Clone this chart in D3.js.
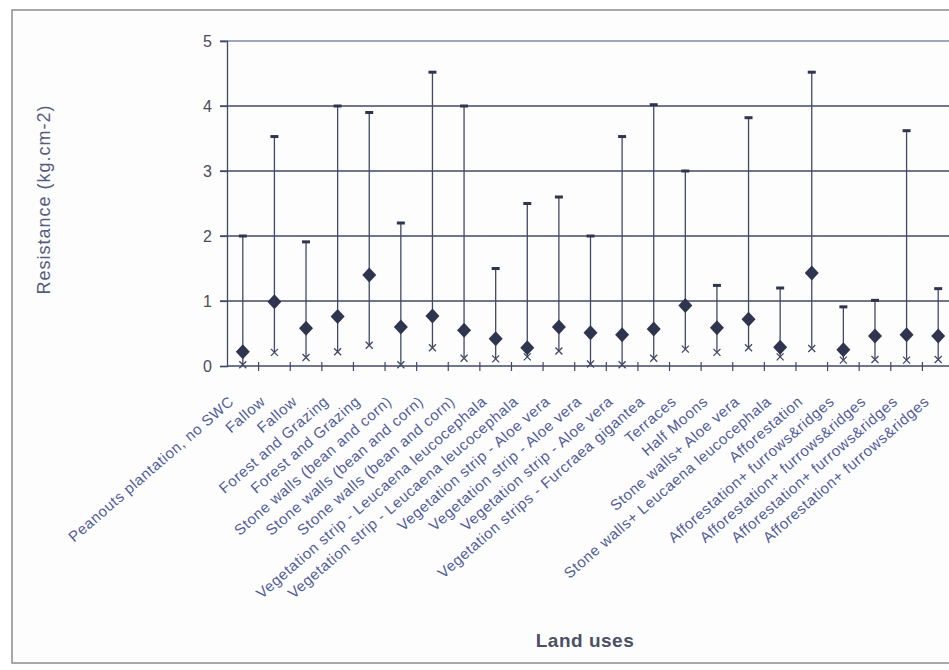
<!DOCTYPE html>
<html>
<head>
<meta charset="utf-8">
<script src="https://cdn.jsdelivr.net/npm/d3@7"></script>
<style>
  html, body { margin: 0; padding: 0; background: #ffffff; }
  svg { display: block; }
  text { font-family: "Liberation Sans", Arial, sans-serif; }
</style>
</head>
<body>
<svg id="chart" width="949" height="670"></svg>
<script>
// Land uses and soil resistance (kg.cm-2): maximum, mean and minimum per site
const categories = [
  "Peanouts plantation, no SWC",
  "Fallow",
  "Fallow",
  "Forest and Grazing",
  "Forest and Grazing",
  "Stone walls (bean and corn)",
  "Stone walls (bean and corn)",
  "Stone walls (bean and corn)",
  "Vegetation strip - Leucaena leucocephala",
  "Vegetation strip - Leucaena leucocephala",
  "Vegetation strip - Aloe vera",
  "Vegetation strip - Aloe vera",
  "Vegetation strip - Aloe vera",
  "Vegetation strips - Furcraea gigantea",
  "Terraces",
  "Half Moons",
  "Stone walls+ Aloe vera",
  "Stone walls+ Leucaena leucocephala",
  "Afforestation",
  "Afforestation+ furrows&ridges",
  "Afforestation+ furrows&ridges",
  "Afforestation+ furrows&ridges",
  "Afforestation+ furrows&ridges"
];
const maxValues  = [2.0, 3.53, 1.91, 4.0, 3.9, 2.2, 4.52, 4.0, 1.5, 2.5, 2.6, 2.0, 3.53, 4.02, 3.0, 1.24, 3.82, 1.2, 4.52, 0.91, 1.01, 3.62, 1.19];
const meanValues = [0.22, 0.99, 0.58, 0.76, 1.4, 0.6, 0.77, 0.55, 0.42, 0.28, 0.6, 0.51, 0.48, 0.57, 0.93, 0.59, 0.72, 0.29, 1.43, 0.25, 0.46, 0.48, 0.46];
const minValues  = [0.02, 0.21, 0.13, 0.22, 0.32, 0.02, 0.28, 0.12, 0.11, 0.14, 0.23, 0.03, 0.02, 0.12, 0.26, 0.21, 0.28, 0.14, 0.27, 0.09, 0.1, 0.09, 0.1];
const yTicks = [0, 1, 2, 3, 4, 5];

const svg = d3.select("#chart");
const ink = "#30354f";
const lineInk = "#424966";
const labelInk = "#515c9a";

// outer frame
svg.append("rect")
  .attr("x", 12).attr("y", 10)
  .attr("width", 960).attr("height", 653)
  .attr("fill", "#fdfdfd")
  .attr("stroke", "#8c8c8c").attr("stroke-width", 1.5);

const plot = { left: 227, right: 954, top: 41, bottom: 366 };

const x = d3.scaleBand()
  .domain(d3.range(categories.length))
  .range([plot.left, plot.right])
  .paddingInner(0).paddingOuter(0);

const y = d3.scaleLinear().domain([0, 5]).range([plot.bottom, plot.top]);

// horizontal gridlines with tick stubs to the left of the axis
const grid = svg.append("g");
grid.selectAll("line")
  .data(yTicks.filter(d => d > 0))
  .join("line")
  .attr("x1", plot.left - 7).attr("x2", plot.right)
  .attr("y1", d => y(d)).attr("y2", d => y(d))
  .attr("stroke", d => d === 5 ? "#7f87a3" : lineInk)
  .attr("stroke-width", 1.3);

// y axis
const yAxis = svg.append("g")
  .attr("transform", `translate(${plot.left},0)`)
  .call(d3.axisLeft(y).tickValues(yTicks).tickSize(7).tickPadding(8).tickFormat(d3.format("d")));
yAxis.select(".domain").attr("stroke", lineInk).attr("stroke-width", 1.3);
yAxis.selectAll(".tick line").attr("stroke", lineInk).attr("stroke-width", 1.2);
yAxis.selectAll(".tick text")
  .attr("font-size", 16).attr("fill", "#4a4b58");

// x axis with ticks at category boundaries crossing the line
const xAxisG = svg.append("g").attr("transform", `translate(0,${plot.bottom})`);
xAxisG.append("line")
  .attr("x1", plot.left).attr("x2", plot.right)
  .attr("stroke", lineInk).attr("stroke-width", 1.3);
xAxisG.selectAll("line.tk")
  .data(d3.range(1, categories.length + 1))
  .join("line").attr("class", "tk")
  .attr("x1", i => plot.left + i * x.step()).attr("x2", i => plot.left + i * x.step())
  .attr("y1", -4).attr("y2", 5)
  .attr("stroke", lineInk).attr("stroke-width", 1.2);

// category labels
svg.append("g").selectAll("text")
  .data(categories)
  .join("text")
  .attr("transform", (d, i) => `translate(${x(i) + x.bandwidth() / 2 - 8},${plot.bottom + 37}) rotate(-41)`)
  .attr("text-anchor", "end")
  .attr("font-size", 15)
  .attr("letter-spacing", 0.6)
  .attr("fill", labelInk)
  .text(d => d);

// error bars: min to max
const cx = i => x(i) + x.bandwidth() / 2;
const marks = svg.append("g");
marks.selectAll("line.range")
  .data(d3.range(categories.length))
  .join("line").attr("class", "range")
  .attr("x1", cx).attr("x2", cx)
  .attr("y1", i => y(minValues[i])).attr("y2", i => y(maxValues[i]))
  .attr("stroke", lineInk).attr("stroke-width", 1.3);

// caps at maximum
marks.selectAll("line.cap")
  .data(d3.range(categories.length))
  .join("line").attr("class", "cap")
  .attr("x1", i => cx(i) - 4).attr("x2", i => cx(i) + 4)
  .attr("y1", i => y(maxValues[i])).attr("y2", i => y(maxValues[i]))
  .attr("stroke", ink).attr("stroke-width", 3);

// cross markers at minimum
marks.selectAll("path.min")
  .data(d3.range(categories.length))
  .join("path").attr("class", "min")
  .attr("transform", i => `translate(${cx(i)},${y(minValues[i])})`)
  .attr("d", "M-3.5,-3.5L3.5,3.5M-3.5,3.5L3.5,-3.5")
  .attr("stroke", lineInk).attr("stroke-width", 1.3).attr("fill", "none");

// diamonds at mean
marks.selectAll("path.mean")
  .data(d3.range(categories.length))
  .join("path").attr("class", "mean")
  .attr("transform", i => `translate(${cx(i)},${y(meanValues[i])})`)
  .attr("d", "M0,-7.5L7,0L0,7.5L-7,0Z")
  .attr("fill", ink);

// axis titles
svg.append("text")
  .attr("transform", `translate(50,${(plot.top + plot.bottom) / 2 - 4}) rotate(-90)`)
  .attr("text-anchor", "middle")
  .attr("font-size", 18)
  .attr("letter-spacing", 1)
  .attr("fill", "#555c80")
  .text("Resistance (kg.cm-2)");

svg.append("text")
  .attr("x", 585).attr("y", 647)
  .attr("text-anchor", "middle")
  .attr("font-size", 19)
  .attr("font-weight", "bold")
  .attr("letter-spacing", 0.5)
  .attr("fill", "#4c5066")
  .text("Land uses");
</script>
</body>
</html>
